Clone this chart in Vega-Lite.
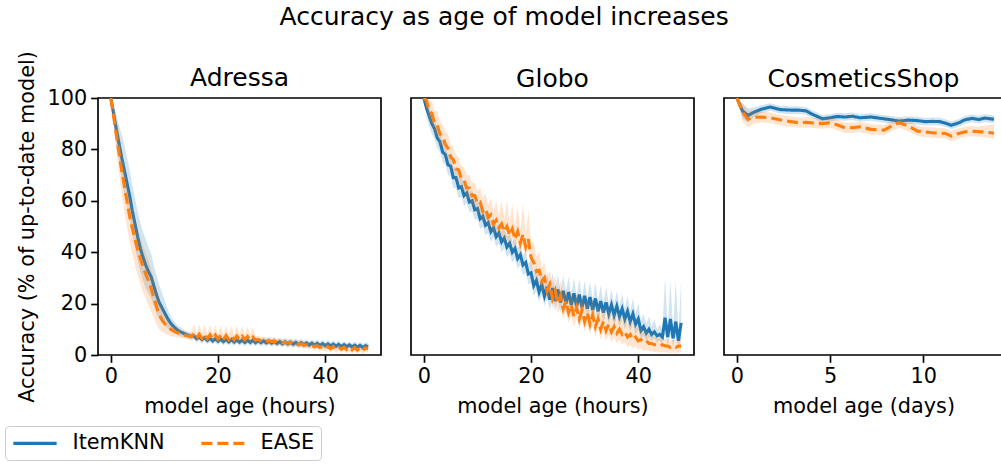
{
"$schema":"https://vega.github.io/schema/vega-lite/v6.json",
"padding":{"left":4,"top":4,"right":0,"bottom":0},
"title":{"text":"Accuracy as age of model increases","fontSize":25,"fontWeight":"normal","offset":20,"anchor":"middle"},
"config":{
"font":"DejaVu Sans",
"view":{"stroke":"black","strokeWidth":1.67},
"title":{"fontSize":25,"fontWeight":"normal","color":"black","offset":6},
"axis":{"labelFontSize":20.8,"titleFontSize":20.8,"titleFontWeight":"normal","labelColor":"black","titleColor":"black","tickColor":"black","tickSize":7.3,"tickWidth":1.67,"grid":false,"domain":false,"labelPadding":4,"titlePadding":10},
"legend":{"labelFontSize":20.8,"labelColor":"black"}
},
"resolve":{"scale":{"x":"independent","y":"independent"}},
"spacing":28,
"datasets":{
"A":[
{"x":0,"k":100,"kl":100,"kh":100,"e":100,"el":100,"eh":100},
{"x":0.5,"k":94,"kl":91,"kh":97,"e":93,"el":89,"eh":97},
{"x":1,"k":88,"kl":82,"kh":94,"e":86,"el":80,"eh":92},
{"x":1.5,"k":82.5,"kl":75.5,"kh":89.5,"e":79,"el":71,"eh":87},
{"x":2,"k":77,"kl":69,"kh":86,"e":72,"el":63,"eh":80},
{"x":2.5,"k":72,"kl":63,"kh":82,"e":66,"el":56,"eh":74},
{"x":3,"k":67,"kl":58,"kh":77,"e":60,"el":50,"eh":68},
{"x":3.5,"k":62,"kl":53,"kh":72,"e":54,"el":44,"eh":62},
{"x":4,"k":56,"kl":47,"kh":66,"e":49.5,"el":39.5,"eh":57.5},
{"x":4.5,"k":51,"kl":42,"kh":61,"e":45,"el":35,"eh":53},
{"x":5,"k":46,"kl":37,"kh":56,"e":41,"el":31,"eh":49},
{"x":5.5,"k":41.5,"kl":32.5,"kh":51.5,"e":37.5,"el":27.5,"eh":45.5},
{"x":6,"k":38,"kl":29,"kh":48,"e":34.5,"el":24.5,"eh":42.5},
{"x":6.5,"k":35,"kl":26,"kh":45,"e":31.5,"el":22,"eh":39.5},
{"x":7,"k":32.5,"kl":24,"kh":42,"e":29,"el":19.5,"eh":37},
{"x":7.5,"k":30.5,"kl":22,"kh":39.5,"e":26,"el":17,"eh":33.5},
{"x":8,"k":27,"kl":19,"kh":35,"e":22.5,"el":14.5,"eh":30},
{"x":8.5,"k":23.5,"kl":16,"kh":31,"e":19,"el":12,"eh":26},
{"x":9,"k":20.5,"kl":14,"kh":27.5,"e":16,"el":10,"eh":22},
{"x":9.5,"k":18.5,"kl":12.5,"kh":24.5,"e":13.8,"el":9,"eh":19},
{"x":10,"k":16.5,"kl":11.5,"kh":21.5,"e":12.3,"el":8.5,"eh":16.5},
{"x":10.5,"k":14.5,"kl":10.5,"kh":18.5,"e":11.2,"el":8,"eh":14.5},
{"x":11,"k":12.8,"kl":9.5,"kh":16,"e":10.3,"el":7.5,"eh":13},
{"x":11.5,"k":11.5,"kl":9,"kh":14,"e":9.6,"el":7.2,"eh":12},
{"x":12,"k":10.5,"kl":8.3,"kh":12.7,"e":9,"el":7,"eh":11},
{"x":12.5,"k":9.6,"kl":7.7,"kh":11.5,"e":8.6,"el":6.8,"eh":10.4},
{"x":13,"k":9,"kl":7.3,"kh":10.7,"e":8.2,"el":6.6,"eh":9.8},
{"x":13.5,"k":8.5,"kl":7,"kh":10,"e":7.9,"el":6.4,"eh":9.4},
{"x":14,"k":8,"kl":6.6,"kh":9.4,"e":7.6,"el":6.2,"eh":9},
{"x":14.5,"k":7.6,"kl":6.2,"kh":9,"e":7.4,"el":6,"eh":8.8},
{"x":15,"k":7.3,"kl":5.9,"kh":8.7,"e":7.2,"el":5.8,"eh":8.6},
{"x":15.5,"k":7.4,"kl":6,"kh":8.8,"e":8.2,"el":6.2,"eh":12.2},
{"x":16,"k":6.4,"kl":5,"kh":7.8,"e":6.6,"el":4.8,"eh":8.6},
{"x":16.5,"k":7.0,"kl":5.6,"kh":8.4,"e":8.1,"el":6.1,"eh":12.1},
{"x":17,"k":6.0,"kl":4.6,"kh":7.4,"e":6.5,"el":4.7,"eh":8.5},
{"x":17.5,"k":6.7,"kl":5.3,"kh":8.1,"e":8.0,"el":6,"eh":12},
{"x":18,"k":5.7,"kl":4.3,"kh":7.1,"e":6.4,"el":4.6,"eh":8.4},
{"x":18.5,"k":6.5,"kl":5.1,"kh":7.9,"e":7.9,"el":5.9,"eh":11.9},
{"x":19,"k":5.5,"kl":4.1,"kh":6.9,"e":6.3,"el":4.5,"eh":8.3},
{"x":19.5,"k":6.3,"kl":4.9,"kh":7.7,"e":7.8,"el":5.8,"eh":11.8},
{"x":20,"k":5.3,"kl":3.9,"kh":6.7,"e":6.2,"el":4.4,"eh":8.2},
{"x":20.5,"k":6.2,"kl":4.8,"kh":7.6,"e":7.7,"el":5.7,"eh":11.7},
{"x":21,"k":5.2,"kl":3.8,"kh":6.6,"e":6.1,"el":4.3,"eh":8.1},
{"x":21.5,"k":6.1,"kl":4.7,"kh":7.5,"e":7.6,"el":5.6,"eh":11.6},
{"x":22,"k":5.1,"kl":3.7,"kh":6.5,"e":6.0,"el":4.2,"eh":8},
{"x":22.5,"k":6.0,"kl":4.6,"kh":7.4,"e":7.5,"el":5.5,"eh":11.5},
{"x":23,"k":5.0,"kl":3.6,"kh":6.4,"e":6.0,"el":4.2,"eh":8},
{"x":23.5,"k":5.9,"kl":4.5,"kh":7.3,"e":7.4,"el":5.4,"eh":11.4},
{"x":24,"k":5.0,"kl":3.6,"kh":6.4,"e":6.0,"el":4.2,"eh":8},
{"x":24.5,"k":5.8,"kl":4.4,"kh":7.2,"e":7.3,"el":5.3,"eh":11.3},
{"x":25,"k":4.9,"kl":3.5,"kh":6.3,"e":6.0,"el":4.2,"eh":8},
{"x":25.5,"k":5.8,"kl":4.4,"kh":7.2,"e":7.2,"el":5.2,"eh":11.2},
{"x":26,"k":4.9,"kl":3.5,"kh":6.3,"e":5.9,"el":4.1,"eh":7.9},
{"x":26.5,"k":5.7,"kl":4.3,"kh":7.1,"e":7.0,"el":5,"eh":11},
{"x":27,"k":4.8,"kl":3.4,"kh":6.2,"e":5.8,"el":4.2,"eh":7.4},
{"x":27.5,"k":5.6,"kl":4.2,"kh":7,"e":6.0,"el":4.6,"eh":7.4},
{"x":28,"k":4.8,"kl":3.4,"kh":6.2,"e":5.6,"el":4.2,"eh":7},
{"x":28.5,"k":5.5,"kl":4.1,"kh":6.9,"e":5.8,"el":4.4,"eh":7.2},
{"x":29,"k":4.7,"kl":3.3,"kh":6.1,"e":5.4,"el":4,"eh":6.8},
{"x":29.5,"k":5.4,"kl":4,"kh":6.8,"e":5.6,"el":4.2,"eh":7},
{"x":30,"k":4.6,"kl":3.2,"kh":6,"e":5.2,"el":3.8,"eh":6.6},
{"x":30.5,"k":5.3,"kl":3.9,"kh":6.7,"e":5.4,"el":4,"eh":6.8},
{"x":31,"k":4.5,"kl":3.1,"kh":5.9,"e":5.0,"el":3.6,"eh":6.4},
{"x":31.5,"k":5.2,"kl":3.8,"kh":6.6,"e":5.2,"el":3.8,"eh":6.6},
{"x":32,"k":4.4,"kl":3,"kh":5.8,"e":4.8,"el":3.4,"eh":6.2},
{"x":32.5,"k":5.1,"kl":3.7,"kh":6.5,"e":5.0,"el":3.6,"eh":6.4},
{"x":33,"k":4.3,"kl":2.9,"kh":5.7,"e":4.6,"el":3.2,"eh":6},
{"x":33.5,"k":5.0,"kl":3.6,"kh":6.4,"e":4.8,"el":3.4,"eh":6.2},
{"x":34,"k":4.2,"kl":2.8,"kh":5.6,"e":4.4,"el":3,"eh":5.8},
{"x":34.5,"k":4.9,"kl":3.5,"kh":6.3,"e":4.6,"el":3.2,"eh":6},
{"x":35,"k":4.1,"kl":2.7,"kh":5.5,"e":4.2,"el":2.8,"eh":5.6},
{"x":35.5,"k":4.8,"kl":3.4,"kh":6.2,"e":4.3,"el":2.9,"eh":5.7},
{"x":36,"k":4.0,"kl":2.6,"kh":5.4,"e":3.9,"el":2.5,"eh":5.3},
{"x":36.5,"k":4.7,"kl":3.3,"kh":6.1,"e":4.0,"el":2.6,"eh":5.4},
{"x":37,"k":3.9,"kl":2.5,"kh":5.3,"e":3.6,"el":2.2,"eh":5},
{"x":37.5,"k":4.6,"kl":3.2,"kh":6,"e":3.7,"el":2.3,"eh":5.1},
{"x":38,"k":3.8,"kl":2.4,"kh":5.2,"e":3.3,"el":1.9,"eh":4.7},
{"x":38.5,"k":4.5,"kl":3.1,"kh":5.9,"e":3.6,"el":2.2,"eh":5},
{"x":39,"k":3.7,"kl":2.3,"kh":5.1,"e":2.9,"el":1.5,"eh":4.3},
{"x":39.5,"k":4.4,"kl":3,"kh":5.8,"e":3.4,"el":2,"eh":4.8},
{"x":40,"k":3.6,"kl":2.2,"kh":5,"e":2.6,"el":1.2,"eh":4},
{"x":40.5,"k":4.3,"kl":2.9,"kh":5.7,"e":3.3,"el":1.9,"eh":4.7},
{"x":41,"k":3.5,"kl":2.1,"kh":4.9,"e":2.4,"el":1,"eh":3.8},
{"x":41.5,"k":4.2,"kl":2.8,"kh":5.6,"e":3.2,"el":1.8,"eh":4.6},
{"x":42,"k":3.4,"kl":2,"kh":4.8,"e":2.3,"el":0.9,"eh":3.7},
{"x":42.5,"k":4.1,"kl":2.7,"kh":5.5,"e":3.1,"el":1.7,"eh":4.5},
{"x":43,"k":3.3,"kl":1.9,"kh":4.7,"e":2.2,"el":0.8,"eh":3.6},
{"x":43.5,"k":4.0,"kl":2.6,"kh":5.4,"e":3.0,"el":1.6,"eh":4.4},
{"x":44,"k":3.2,"kl":1.8,"kh":4.6,"e":2.1,"el":0.7,"eh":3.5},
{"x":44.5,"k":3.9,"kl":2.5,"kh":5.3,"e":2.9,"el":1.5,"eh":4.3},
{"x":45,"k":3.1,"kl":1.7,"kh":4.5,"e":2.0,"el":0.6,"eh":3.4},
{"x":45.5,"k":3.8,"kl":2.4,"kh":5.2,"e":2.9,"el":1.5,"eh":4.3},
{"x":46,"k":3.0,"kl":1.6,"kh":4.4,"e":1.9,"el":0.5,"eh":3.3},
{"x":46.5,"k":3.7,"kl":2.3,"kh":5.1,"e":2.8,"el":1.4,"eh":4.2},
{"x":47,"k":2.9,"kl":1.5,"kh":4.3,"e":1.8,"el":0.4,"eh":3.2},
{"x":47.5,"k":3.6,"kl":2.2,"kh":5,"e":2.8,"el":1.4,"eh":4.2},
{"x":48,"k":3.2,"kl":1.8,"kh":4.6,"e":2.4,"el":1,"eh":3.8}
],
"G":[
{"x":0,"k":100,"kl":100,"kh":100,"e":100,"el":100,"eh":100},
{"x":0.5,"k":96,"kl":92,"kh":99,"e":99,"el":96,"eh":100},
{"x":1,"k":93,"kl":89,"kh":97,"e":95,"el":91,"eh":99},
{"x":1.5,"k":90,"kl":86,"kh":94,"e":94,"el":90,"eh":99},
{"x":2,"k":88,"kl":84,"kh":92,"e":90,"el":86,"eh":95},
{"x":2.5,"k":84.5,"kl":80.5,"kh":88.5,"e":89.5,"el":85.5,"eh":95},
{"x":3,"k":83,"kl":79,"kh":87,"e":86,"el":82,"eh":91},
{"x":3.5,"k":79,"kl":75,"kh":83,"e":85,"el":81,"eh":90},
{"x":4,"k":78,"kl":74,"kh":82,"e":82,"el":78,"eh":87},
{"x":4.5,"k":74,"kl":70,"kh":78,"e":80.5,"el":76.5,"eh":86},
{"x":5,"k":73.5,"kl":69.5,"kh":77.5,"e":77,"el":73,"eh":82},
{"x":5.5,"k":69,"kl":65,"kh":73,"e":76,"el":72,"eh":81},
{"x":6,"k":69,"kl":65,"kh":73,"e":72.5,"el":68.5,"eh":77.5},
{"x":6.5,"k":65,"kl":61,"kh":69,"e":72,"el":68,"eh":77},
{"x":7,"k":65.5,"kl":61.5,"kh":69.5,"e":68.5,"el":64.5,"eh":73.5},
{"x":7.5,"k":62,"kl":58,"kh":66,"e":68,"el":64,"eh":73},
{"x":8,"k":63,"kl":59,"kh":67,"e":65,"el":61,"eh":70},
{"x":8.5,"k":59.5,"kl":55.5,"kh":63.5,"e":65,"el":61,"eh":70},
{"x":9,"k":60,"kl":56,"kh":64,"e":62,"el":58,"eh":67},
{"x":9.5,"k":56.5,"kl":52.5,"kh":60.5,"e":62,"el":58,"eh":67},
{"x":10,"k":57,"kl":53,"kh":61,"e":59,"el":55,"eh":64},
{"x":10.5,"k":53,"kl":49,"kh":57,"e":59.5,"el":55.5,"eh":65},
{"x":11,"k":54,"kl":50,"kh":58,"e":56,"el":52,"eh":61},
{"x":11.5,"k":50.5,"kl":46.5,"kh":54.5,"e":57,"el":53,"eh":63},
{"x":12,"k":51.5,"kl":47.5,"kh":55.5,"e":53.5,"el":49.5,"eh":58.5},
{"x":12.5,"k":48,"kl":44,"kh":52,"e":54.5,"el":50.5,"eh":61},
{"x":13,"k":49.5,"kl":45.5,"kh":53.5,"e":51,"el":47,"eh":56},
{"x":13.5,"k":46,"kl":42,"kh":50,"e":52.5,"el":48.5,"eh":60},
{"x":14,"k":47.5,"kl":43.5,"kh":51.5,"e":49.5,"el":45.5,"eh":54.5},
{"x":14.5,"k":44,"kl":40,"kh":48,"e":51,"el":47,"eh":60},
{"x":15,"k":45.5,"kl":41.5,"kh":49.5,"e":48,"el":44,"eh":53},
{"x":15.5,"k":42,"kl":38,"kh":46,"e":50,"el":46,"eh":60},
{"x":16,"k":43.5,"kl":39.5,"kh":47.5,"e":46.5,"el":42.5,"eh":51.5},
{"x":16.5,"k":40,"kl":36,"kh":44,"e":49,"el":45,"eh":59},
{"x":17,"k":41.5,"kl":37.5,"kh":45.5,"e":45,"el":41,"eh":50},
{"x":17.5,"k":37.5,"kl":33.5,"kh":41.5,"e":48,"el":44,"eh":58},
{"x":18,"k":39,"kl":35,"kh":43,"e":43.5,"el":39.5,"eh":48.5},
{"x":18.5,"k":35,"kl":31,"kh":39,"e":47,"el":43,"eh":59},
{"x":19,"k":36,"kl":32,"kh":40,"e":42,"el":38,"eh":47},
{"x":19.5,"k":31.5,"kl":27.5,"kh":35.5,"e":45,"el":41,"eh":56},
{"x":20,"k":32,"kl":28,"kh":37,"e":38,"el":34,"eh":44},
{"x":20.5,"k":27,"kl":23,"kh":31,"e":36,"el":32,"eh":44},
{"x":21,"k":29,"kl":25,"kh":35,"e":32.5,"el":28.5,"eh":38},
{"x":21.5,"k":24.5,"kl":20.5,"kh":28.5,"e":33,"el":29,"eh":40},
{"x":22,"k":27.5,"kl":23.5,"kh":33.5,"e":28.5,"el":24.5,"eh":34},
{"x":22.5,"k":23,"kl":19,"kh":27,"e":30,"el":26,"eh":36},
{"x":23,"k":26.5,"kl":22.5,"kh":32.5,"e":25,"el":21,"eh":30},
{"x":23.5,"k":21.5,"kl":17.5,"kh":25.5,"e":27.5,"el":23.5,"eh":33},
{"x":24,"k":26,"kl":22,"kh":32,"e":22,"el":18,"eh":27},
{"x":24.5,"k":21,"kl":17,"kh":25,"e":25,"el":21,"eh":31},
{"x":25,"k":25.5,"kl":21.5,"kh":31.5,"e":20,"el":16,"eh":25},
{"x":25.5,"k":20.5,"kl":16.5,"kh":24.5,"e":23,"el":19,"eh":29},
{"x":26,"k":25,"kl":21,"kh":31,"e":18,"el":14,"eh":23},
{"x":26.5,"k":20,"kl":16,"kh":24,"e":21,"el":17,"eh":27},
{"x":27,"k":24.5,"kl":20.5,"kh":30.5,"e":16.5,"el":12.5,"eh":21.5},
{"x":27.5,"k":19.5,"kl":15.5,"kh":23.5,"e":19.5,"el":15.5,"eh":25.5},
{"x":28,"k":24,"kl":20,"kh":30,"e":15,"el":11,"eh":20},
{"x":28.5,"k":19,"kl":15,"kh":23,"e":18.5,"el":14.5,"eh":24.5},
{"x":29,"k":23.5,"kl":19.5,"kh":29.5,"e":14,"el":10,"eh":19},
{"x":29.5,"k":18.5,"kl":14.5,"kh":22.5,"e":17.5,"el":13.5,"eh":23.5},
{"x":30,"k":23,"kl":19,"kh":29,"e":13,"el":9,"eh":18},
{"x":30.5,"k":18,"kl":14,"kh":22,"e":16.5,"el":12.5,"eh":22.5},
{"x":31,"k":22.5,"kl":18.5,"kh":28.5,"e":12,"el":8,"eh":17},
{"x":31.5,"k":17.5,"kl":13.5,"kh":21.5,"e":15.5,"el":11.5,"eh":21.5},
{"x":32,"k":22,"kl":18,"kh":28,"e":11,"el":7,"eh":16},
{"x":32.5,"k":17,"kl":13,"kh":21,"e":14,"el":10,"eh":20},
{"x":33,"k":21,"kl":17,"kh":27,"e":10,"el":6,"eh":15},
{"x":33.5,"k":16.5,"kl":12.5,"kh":20.5,"e":13,"el":9,"eh":19},
{"x":34,"k":20.5,"kl":16.5,"kh":26.5,"e":9.5,"el":5.5,"eh":14.5},
{"x":34.5,"k":16,"kl":12,"kh":20,"e":12,"el":8,"eh":18},
{"x":35,"k":19.5,"kl":15.5,"kh":25.5,"e":9,"el":5,"eh":14},
{"x":35.5,"k":15.5,"kl":11.5,"kh":19.5,"e":11,"el":7,"eh":17},
{"x":36,"k":19,"kl":15,"kh":25,"e":8.5,"el":4.5,"eh":13.5},
{"x":36.5,"k":15,"kl":11,"kh":19,"e":10,"el":6,"eh":16},
{"x":37,"k":18,"kl":14,"kh":24,"e":8,"el":4,"eh":13},
{"x":37.5,"k":14,"kl":10,"kh":18,"e":9,"el":5,"eh":15},
{"x":38,"k":17,"kl":13,"kh":23,"e":7,"el":3,"eh":12},
{"x":38.5,"k":13,"kl":9,"kh":17,"e":8,"el":4,"eh":14},
{"x":39,"k":16,"kl":12,"kh":22,"e":6,"el":2.5,"eh":11},
{"x":39.5,"k":12,"kl":8,"kh":16,"e":7,"el":3.5,"eh":12},
{"x":40,"k":14,"kl":10,"kh":20,"e":5.5,"el":2,"eh":10},
{"x":40.5,"k":9.5,"kl":6,"kh":13.5,"e":6,"el":2.5,"eh":10.5},
{"x":41,"k":11,"kl":7.5,"kh":16,"e":5,"el":1.5,"eh":9},
{"x":41.5,"k":8.5,"kl":5.5,"kh":12,"e":5.5,"el":2,"eh":9.5},
{"x":42,"k":10,"kl":7,"kh":15,"e":4.5,"el":1.5,"eh":8},
{"x":42.5,"k":8,"kl":5.5,"kh":11,"e":4.5,"el":1.5,"eh":8},
{"x":43,"k":9,"kl":6.5,"kh":14,"e":4,"el":1.2,"eh":7},
{"x":43.5,"k":7.5,"kl":5,"kh":10,"e":4,"el":1.2,"eh":7},
{"x":44,"k":8,"kl":5.5,"kh":12,"e":3.5,"el":1,"eh":6.5},
{"x":44.5,"k":7,"kl":4.5,"kh":10,"e":4,"el":1.2,"eh":6.5},
{"x":45,"k":14.5,"kl":8,"kh":30,"e":3.5,"el":1,"eh":6},
{"x":45.5,"k":7,"kl":4,"kh":11,"e":3.5,"el":1,"eh":6},
{"x":46,"k":14,"kl":8,"kh":29,"e":3,"el":0.8,"eh":5.5},
{"x":46.5,"k":6.5,"kl":3.5,"kh":10,"e":3.5,"el":1,"eh":6},
{"x":47,"k":13,"kl":7,"kh":29,"e":3,"el":0.8,"eh":5.5},
{"x":47.5,"k":5.5,"kl":3,"kh":9,"e":3.5,"el":1,"eh":6},
{"x":48,"k":12.5,"kl":6,"kh":29,"e":3.5,"el":1,"eh":6}
],
"C":[
{"x":0,"k":100,"kl":100,"kh":100,"e":100,"el":100,"eh":100},
{"x":0.3,"k":95,"kl":92,"kh":98,"e":94.5,"el":91,"eh":98},
{"x":0.6,"k":93.2,"kl":90.5,"kh":96,"e":91.7,"el":88.5,"eh":95},
{"x":0.9,"k":94.4,"kl":92.5,"kh":96.3,"e":92.5,"el":90,"eh":95},
{"x":1.3,"k":95.6,"kl":94,"kh":97.2,"e":92.6,"el":90.5,"eh":94.7},
{"x":1.8,"k":96.5,"kl":95,"kh":98,"e":92.3,"el":90.2,"eh":94.4},
{"x":2.3,"k":95.5,"kl":94,"kh":97,"e":91.5,"el":89.5,"eh":93.5},
{"x":2.9,"k":95.3,"kl":93.8,"kh":96.8,"e":90.8,"el":88.8,"eh":92.8},
{"x":3.3,"k":95.3,"kl":93.8,"kh":96.8,"e":90.4,"el":88.4,"eh":92.4},
{"x":3.7,"k":95,"kl":93.5,"kh":96.5,"e":90.5,"el":88.5,"eh":92.5},
{"x":4.1,"k":93.5,"kl":92,"kh":95,"e":90.3,"el":88.3,"eh":92.3},
{"x":4.6,"k":91.9,"kl":90.4,"kh":93.4,"e":90,"el":88,"eh":92},
{"x":5.0,"k":92.3,"kl":90.8,"kh":93.8,"e":90.4,"el":88.4,"eh":92.4},
{"x":5.4,"k":92.8,"kl":91.3,"kh":94.3,"e":89.5,"el":87.5,"eh":91.5},
{"x":5.8,"k":92.6,"kl":91.1,"kh":94.1,"e":88.4,"el":86.4,"eh":90.4},
{"x":6.2,"k":92.9,"kl":91.4,"kh":94.4,"e":88.4,"el":86.4,"eh":90.4},
{"x":6.6,"k":92.3,"kl":90.8,"kh":93.8,"e":88.8,"el":86.8,"eh":90.8},
{"x":7.2,"k":92.6,"kl":91.1,"kh":94.1,"e":87.8,"el":85.8,"eh":89.8},
{"x":7.9,"k":91.9,"kl":90.4,"kh":93.4,"e":87.5,"el":85.5,"eh":89.5},
{"x":8.3,"k":91.5,"kl":90,"kh":93,"e":89.1,"el":87.1,"eh":91.1},
{"x":8.7,"k":91,"kl":89.5,"kh":92.5,"e":90.4,"el":88.4,"eh":92.4},
{"x":9.2,"k":91.4,"kl":89.9,"kh":92.9,"e":89.1,"el":87.1,"eh":91.1},
{"x":9.7,"k":91.2,"kl":89.7,"kh":92.7,"e":87.1,"el":85.1,"eh":89.1},
{"x":10.1,"k":90.8,"kl":89.3,"kh":92.3,"e":86.8,"el":84.8,"eh":88.8},
{"x":10.5,"k":90.9,"kl":89.4,"kh":92.4,"e":86.5,"el":84.5,"eh":88.5},
{"x":10.9,"k":90.8,"kl":89.3,"kh":92.3,"e":86.3,"el":84.3,"eh":88.3},
{"x":11.2,"k":90.2,"kl":88.7,"kh":91.7,"e":86.2,"el":84.2,"eh":88.2},
{"x":11.5,"k":89.4,"kl":87.9,"kh":90.9,"e":85.2,"el":83.2,"eh":87.2},
{"x":11.9,"k":90.3,"kl":88.8,"kh":91.8,"e":86.2,"el":84.2,"eh":88.2},
{"x":12.2,"k":91.4,"kl":89.9,"kh":92.9,"e":86.8,"el":84.8,"eh":88.8},
{"x":12.6,"k":92.1,"kl":90.6,"kh":93.6,"e":87.1,"el":85.1,"eh":89.1},
{"x":13.0,"k":91.6,"kl":90.1,"kh":93.1,"e":86.9,"el":84.9,"eh":88.9},
{"x":13.3,"k":92.2,"kl":90.7,"kh":93.7,"e":86.8,"el":84.8,"eh":89.3},
{"x":13.8,"k":91.7,"kl":90.2,"kh":93.2,"e":86.3,"el":84,"eh":89.8}
]
},
"hconcat":[
{"width":283,"height":257,"title":{"text":"Adressa","offset":-40},"data":{"name":"A"},
"encoding":{"x":{"field":"x","type":"quantitative","scale":{"domain":[-2.4,50.4],"nice":false,"zero":false},"axis":{"values":[0,20,40],"title":"model age (hours)"}}},
"layer":[
{"mark":{"type":"area","color":"#1f77b4","opacity":0.2,"clip":true},"encoding":{"y":{"field":"kl","type":"quantitative","scale":{"domain":[0,100],"nice":false},"axis":{"values":[0,20,40,60,80,100],"title":"Accuracy (% of up-to-date model)","titlePadding":10}},"y2":{"field":"kh"}}},
{"mark":{"type":"line","strokeWidth":3.1,"clip":true},"encoding":{"y":{"field":"k","type":"quantitative"},"color":{"datum":"ItemKNN"},"strokeDash":{"datum":"ItemKNN"}}},
{"mark":{"type":"area","color":"#ff7f0e","opacity":0.2,"clip":true},"encoding":{"y":{"field":"el","type":"quantitative"},"y2":{"field":"eh"}}},
{"mark":{"type":"line","strokeWidth":3.1,"clip":true},"encoding":{"y":{"field":"e","type":"quantitative"},"color":{"datum":"EASE"},"strokeDash":{"datum":"EASE"}}}
]},
{"width":283,"height":257,"title":"Globo","data":{"name":"G"},
"encoding":{"x":{"field":"x","type":"quantitative","scale":{"domain":[-2.4,50.4],"nice":false,"zero":false},"axis":{"values":[0,20,40],"title":"model age (hours)"}}},
"layer":[
{"mark":{"type":"area","color":"#1f77b4","opacity":0.2,"clip":true},"encoding":{"y":{"field":"kl","type":"quantitative","scale":{"domain":[0,100],"nice":false},"axis":null},"y2":{"field":"kh"}}},
{"mark":{"type":"line","strokeWidth":3.1,"clip":true},"encoding":{"y":{"field":"k","type":"quantitative"},"color":{"datum":"ItemKNN"},"strokeDash":{"datum":"ItemKNN"}}},
{"mark":{"type":"area","color":"#ff7f0e","opacity":0.2,"clip":true},"encoding":{"y":{"field":"el","type":"quantitative"},"y2":{"field":"eh"}}},
{"mark":{"type":"line","strokeWidth":3.1,"clip":true},"encoding":{"y":{"field":"e","type":"quantitative"},"color":{"datum":"EASE"},"strokeDash":{"datum":"EASE"}}}
]},
{"width":279,"height":257,"title":"CosmeticsShop","data":{"name":"C"},
"encoding":{"x":{"field":"x","type":"quantitative","scale":{"domain":[-0.69,14.28],"nice":false,"zero":false},"axis":{"values":[0,5,10],"title":"model age (days)"}}},
"layer":[
{"mark":{"type":"area","color":"#1f77b4","opacity":0.2,"clip":true},"encoding":{"y":{"field":"kl","type":"quantitative","scale":{"domain":[0,100],"nice":false},"axis":null},"y2":{"field":"kh"}}},
{"mark":{"type":"line","strokeWidth":3.1,"clip":true},"encoding":{"y":{"field":"k","type":"quantitative"},"color":{"datum":"ItemKNN"},"strokeDash":{"datum":"ItemKNN"}}},
{"mark":{"type":"area","color":"#ff7f0e","opacity":0.2,"clip":true},"encoding":{"y":{"field":"el","type":"quantitative"},"y2":{"field":"eh"}}},
{"mark":{"type":"line","strokeWidth":3.1,"clip":true},"encoding":{"y":{"field":"e","type":"quantitative"},"color":{"datum":"EASE","scale":{"domain":["ItemKNN","EASE"],"range":["#1f77b4","#ff7f0e"]},"legend":{"title":null,"orient":"none","legendX":-93,"legendY":328,"direction":"horizontal","symbolType":"M-1,0H4","symbolSize":300,"symbolStrokeWidth":3.1,"labelOffset":40,"columnPadding":29,"padding":6.5,"strokeColor":"#cccccc","fillColor":"white","cornerRadius":4}},"strokeDash":{"datum":"EASE","scale":{"domain":["ItemKNN","EASE"],"range":[[1,0],[11,5]]},"legend":{"title":null,"orient":"none","legendX":-93,"legendY":328,"direction":"horizontal","symbolType":"M-1,0H4","symbolSize":300,"symbolStrokeWidth":3.1,"labelOffset":40,"columnPadding":29,"padding":6.5,"strokeColor":"#cccccc","fillColor":"white","cornerRadius":4}}}}
]}
]
}
